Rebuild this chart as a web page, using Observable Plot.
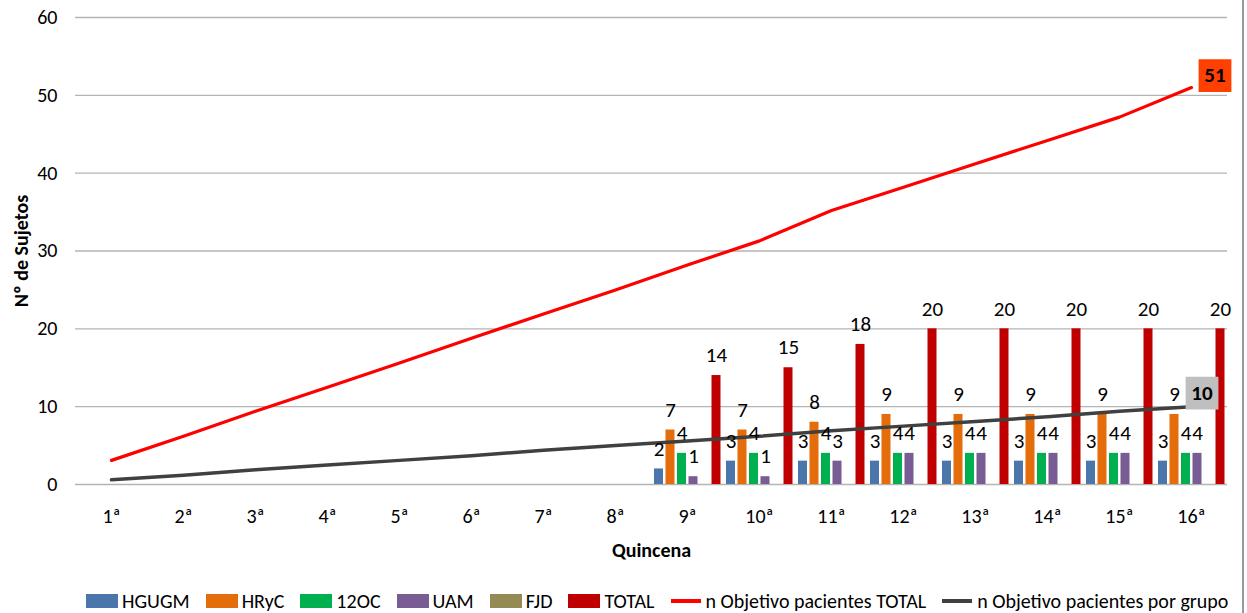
<!DOCTYPE html>
<html>
<head>
<meta charset="utf-8">
<script src="https://cdn.jsdelivr.net/npm/d3@7"></script>
<script src="https://cdn.jsdelivr.net/npm/@observablehq/plot@0.6"></script>
<style>
  html, body { margin: 0; padding: 0; background: #fff; overflow: hidden; }
  body { width: 1247px; height: 613px; position: relative;
         font-family: "Carlito", "Lato", "Liberation Sans", sans-serif; }
  #chart svg { display: block; }
  [aria-label="y-axis label"] text, [aria-label="x-axis label"] text { font-weight: bold; }
  #legend { position: absolute; left: 86px; top: 588px; width: 1161px; height: 25px;
            display: flex; justify-content: flex-start; align-items: center; font-size: 20px; color: #000; white-space: nowrap; }
  .item { display: flex; align-items: center; margin-right: 16px; }
  .sw { width: 32px; height: 14px; margin-right: 4px; }
  .ln { width: 30px; height: 4px; margin-right: 5px; }
  #border { position: absolute; left: 1242px; top: 0; width: 1.5px; height: 613px; background: #9a9a9a; }
</style>
</head>
<body>
<div id="chart"></div>
<div id="legend"></div>
<div id="border"></div>
<script>
// categories
const quincenas = ["1ª","2ª","3ª","4ª","5ª","6ª","7ª","8ª","9ª","10ª","11ª","12ª","13ª","14ª","15ª","16ª"];
const barQuincenas = ["9ª","10ª","11ª","12ª","13ª","14ª","15ª","16ª"];
// bar series (by quincena 9ª..16ª)
const seriesNames = ["HGUGM","HRyC","12OC","UAM","FJD","TOTAL"];
const seriesColors = ["#4A76AC","#E46C0A","#00B050","#7A5C94","#948A54","#C00000"];
const HGUGM = [2,3,3,3,3,3,3,3];
const HRyC  = [7,7,8,9,9,9,9,9];
const OC12  = [4,4,4,4,4,4,4,4];
const UAM   = [1,1,3,4,4,4,4,4];
const FJD   = [0,0,0,0,0,0,0,0];
const TOTAL = [14,15,18,20,20,20,20,20];
// line series (objective)
const objetivoTotal = [3.1,6.2,9.4,12.5,15.6,18.8,21.9,25.0,28.2,31.3,35.2,38.2,41.2,44.2,47.2,51];
const objetivoGrupo = [0.6,1.2,1.9,2.5,3.1,3.7,4.4,5.0,5.6,6.2,6.9,7.5,8.1,8.7,9.4,10];
const yTicks = [0,10,20,30,40,50,60];

const seriesValues = [HGUGM, HRyC, OC12, UAM, FJD, TOTAL];
const bars = seriesNames.map((name, k) =>
  barQuincenas.map((q, i) => ({q, series: name, k, value: seriesValues[k][i]})));
const lineTotal = quincenas.map((q, i) => ({q, value: objetivoTotal[i]}));
const lineGrupo = quincenas.map((q, i) => ({q, value: objetivoGrupo[i]}));

const W = 1247, H = 578, ML = 75, MR = 20;
const band = (W - ML - MR) / quincenas.length; // 72
const pitch = 11.5, bw = 9, pad0 = 3;

const marks = [
  Plot.gridY(yTicks, {stroke: "#b4b4b4", strokeOpacity: 1, strokeWidth: 1.3}),
  Plot.axisY(yTicks, {tickSize: 0, tickPadding: 18, fontSize: 20, label: "Nº de Sujetos",
    labelAnchor: "center", labelArrow: "none", labelOffset: 62}),
  Plot.axisX({tickSize: 0, tickPadding: 24, fontSize: 20, label: "Quincena",
    labelAnchor: "center", labelArrow: "none", labelOffset: 72}),
];
seriesNames.forEach((name, k) => {
  marks.push(Plot.barY(bars[k], {x: "q", y: "value", fill: seriesColors[k],
    insetLeft: pad0 + pitch * k, insetRight: band - (pad0 + pitch * k + bw)}));
});
marks.push(
  Plot.line(lineTotal, {x: "q", y: "value", stroke: "#FF0000", strokeWidth: 3.2}),
  Plot.line(lineGrupo, {x: "q", y: "value", stroke: "#404040", strokeWidth: 3.5})
);
seriesNames.forEach((name, k) => {
  marks.push(Plot.text(bars[k].filter(d => d.value > 0), {x: "q", y: "value", text: d => String(d.value),
    dx: pad0 + pitch * k + bw / 2 - band / 2, dy: -20, fontSize: 21, fill: "#000"}));
});
// end labels
const endTotal = [lineTotal[lineTotal.length - 1]];
const endGrupo = [lineGrupo[lineGrupo.length - 1]];
marks.push(
  Plot.dot(endTotal, {x: "q", y: "value", symbol: "square", r: 18.5, fill: "#FF4000", dx: 23.5, dy: -12}),
  Plot.text(endTotal, {x: "q", y: "value", text: d => String(d.value), dx: 23.5, dy: -12, fontSize: 21, fontWeight: "bold", fill: "#000"}),
  Plot.dot(endGrupo, {x: "q", y: "value", symbol: "square", r: 18.5, fill: "#BFBFBF", dx: 10.5, dy: -13.5}),
  Plot.text(endGrupo, {x: "q", y: "value", text: d => String(d.value), dx: 10.5, dy: -13.5, fontSize: 21, fontWeight: "bold", fill: "#000"})
);

const chart = Plot.plot({
  width: W, height: H,
  marginLeft: ML, marginRight: MR, marginTop: 17, marginBottom: H - 484,
  style: {fontFamily: "Carlito, Lato, 'Liberation Sans', sans-serif", fontSize: "19px", color: "#000", background: "#fff"},
  x: {type: "band", domain: quincenas, padding: 0},
  y: {domain: [0, 60]},
  marks
});
document.getElementById("chart").appendChild(chart);

// legend
const legend = document.getElementById("legend");
seriesNames.forEach((name, k) => {
  const it = document.createElement("div"); it.className = "item";
  it.innerHTML = `<span class="sw" style="background:${seriesColors[k]}"></span><span>${name}</span>`;
  legend.appendChild(it);
});
[["n Objetivo pacientes TOTAL", "#FF0000"], ["n Objetivo pacientes por grupo", "#404040"]].forEach(([t, c]) => {
  const it = document.createElement("div"); it.className = "item";
  it.innerHTML = `<span class="ln" style="background:${c}"></span><span>${t}</span>`;
  legend.appendChild(it);
});
</script>
</body>
</html>
